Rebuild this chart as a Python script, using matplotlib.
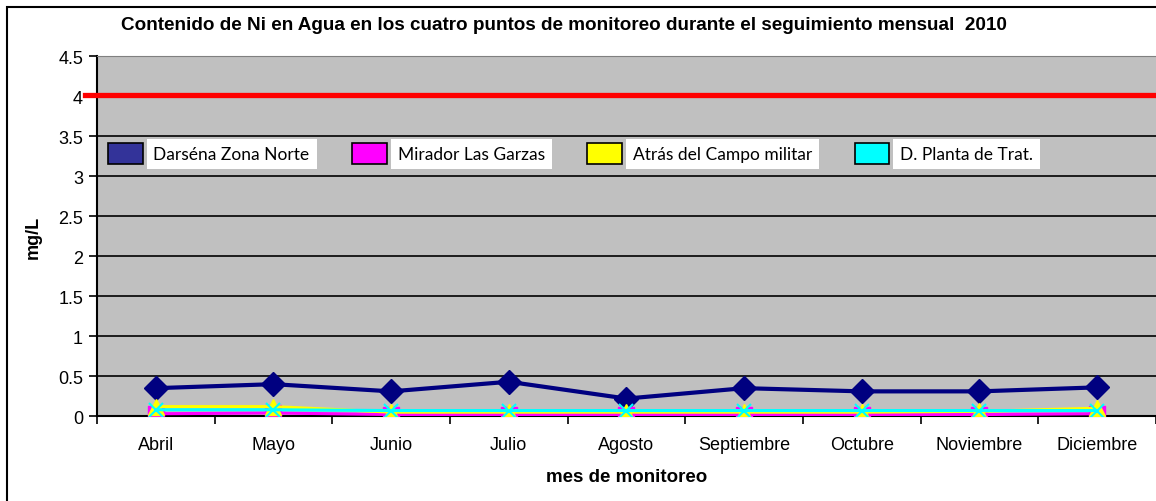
import matplotlib
matplotlib.use("Agg")
import matplotlib.pyplot as plt
from matplotlib.patches import Patch, Rectangle
from matplotlib.ticker import FormatStrFormatter, FixedLocator

meses = ["Abril", "Mayo", "Junio", "Julio", "Agosto", "Septiembre",
         "Octubre", "Noviembre", "Diciembre"]
darsena = [0.35, 0.40, 0.31, 0.43, 0.22, 0.35, 0.31, 0.31, 0.36]
mirador = [0.03, 0.04, 0.02, 0.02, 0.02, 0.02, 0.02, 0.02, 0.03]
atras = [0.12, 0.12, 0.05, 0.05, 0.05, 0.05, 0.05, 0.06, 0.10]
planta = [0.08, 0.08, 0.07, 0.07, 0.07, 0.07, 0.07, 0.07, 0.07]
limite = 4.02

nombres = ["Darséna Zona Norte", "Mirador Las Garzas",
           "Atrás del Campo militar", "D. Planta de Trat."]
colores_leyenda = ["#333399", "#FF00FF", "#FFFF00", "#00FFFF"]

plt.rcParams["font.family"] = ["Liberation Sans", "DejaVu Sans"]

fig = plt.figure(figsize=(11.56, 5.02), dpi=100)
ax = fig.add_axes([0.0839, 0.169, 0.9161, 0.717])
ax.set_facecolor("#C0C0C0")

x = list(range(len(meses)))

# series (orden de dibujo como en Excel)
ax.plot(x, darsena, color="#000080", lw=3, marker="D", ms=12, zorder=5)
ax.plot(x, mirador, color="#FF00FF", lw=2.2, marker="s", ms=11, zorder=6)
ax.plot(x, atras, color="#FFFF00", lw=2.2, marker="^", ms=12, zorder=7)
ax.plot(x, planta, color="#00FFFF", lw=2.2, marker="x", ms=10, mew=1.5, zorder=8)

# limite
ax.axhline(limite, xmin=-0.011, xmax=1.0, color="#FF0000", lw=3.8,
           clip_on=False, zorder=9)

ax.set_xlim(-0.5, len(meses) - 0.5)
ax.set_ylim(0, 4.5)
ax.set_yticks([i * 0.5 for i in range(10)])
ax.yaxis.set_major_formatter(FormatStrFormatter("%g"))
ax.xaxis.set_major_locator(FixedLocator([i - 0.5 for i in range(len(meses) + 1)]))
ax.xaxis.set_minor_locator(FixedLocator(x))
ax.set_xticklabels([], minor=False)
ax.set_xticklabels(meses, minor=True)
ax.tick_params(axis="x", which="major", length=6, width=1.2, direction="out")
ax.tick_params(axis="x", which="minor", length=0, pad=14, labelsize=13)
ax.tick_params(axis="y", length=6, width=1.2, direction="out", labelsize=13, pad=4)

ax.grid(axis="y", color="black", lw=1.2)
ax.set_axisbelow(True)
for s in ["left", "bottom"]:
    ax.spines[s].set_linewidth(1.5)
ax.spines["top"].set_color("#808080")
ax.spines["right"].set_visible(False)

ax.set_ylabel("mg/L", fontsize=13, fontweight="bold", labelpad=12)
ax.set_xlabel("mes de monitoreo", fontsize=13.5, fontweight="bold", labelpad=11)

fig.text(0.488, 0.95, "Contenido de Ni en Agua en los cuatro puntos de monitoreo "
         "durante el seguimiento mensual  2010", ha="center", va="center",
         fontsize=13.6, fontweight="bold")

# leyenda
handles = [Patch(facecolor=c, edgecolor="black", lw=1.2) for c in colores_leyenda]
leg = ax.legend(handles, nombres, ncol=4, loc="center left",
                bbox_to_anchor=(0.0104, 0.73), frameon=False,
                borderaxespad=0, borderpad=0,
                prop={"family": "Lato", "size": 12.5},
                handlelength=2.0, handleheight=1.5, handletextpad=0.62,
                columnspacing=2.45)
for t in leg.get_texts():
    t.set_bbox(dict(facecolor="white", edgecolor="none", pad=5))

# marco exterior
fig.patches.append(Rectangle((7 / 1156, -0.5), 2, 1.5 - 8 / 502,
                             transform=fig.transFigure, fill=False,
                             edgecolor="black", lw=1.5))

fig.savefig("out.png", dpi=100)
